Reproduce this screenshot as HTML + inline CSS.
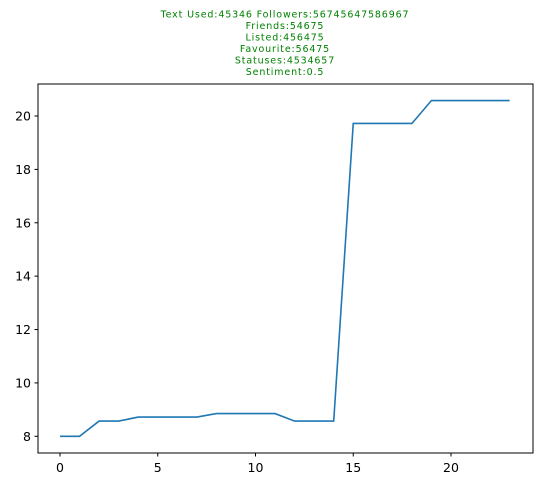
<!DOCTYPE html>
<html><head><meta charset="utf-8"><style>
body{margin:0;background:#fff;width:543px;height:487px;overflow:hidden}
svg{display:block;font-family:"DejaVu Sans","Liberation Sans",sans-serif}
</style></head><body>
<svg id="chart" width="543" height="487">
<g fill="#008000" font-size="9.5" letter-spacing="0.85" text-anchor="middle">
<text x="285" y="17.5">Text Used:45346 Followers:56745647586967</text>
<text x="285" y="29">Friends:54675</text>
<text x="285" y="40.5">Listed:456475</text>
<text x="285" y="52">Favourite:56475</text>
<text x="285" y="63.5">Statuses:4534657</text>
<text x="285" y="75">Sentiment:0.5</text>
</g>
<rect x="38" y="84" width="495" height="369" fill="none" stroke="#000" stroke-width="1"/>
<g id="xt"></g><g id="yt"></g>
<polyline id="line" fill="none" stroke="#1f77b4" stroke-width="1.6"/>
</svg>
<script>
const xValues=[0,1,2,3,4,5,6,7,8,9,10,11,12,13,14,15,16,17,18,19,20,21,22,23];
const yValues=[8,8,8.57,8.57,8.72,8.72,8.72,8.72,8.85,8.85,8.85,8.85,8.57,8.57,8.57,19.72,19.72,19.72,19.72,20.58,20.58,20.58,20.58,20.58];
const xTicks=[0,5,10,15,20];
const yTicks=[8,10,12,14,16,18,20];
const X=v=>60+v*(451-60)/20;
const Y=v=>436.3-(v-8)*(436.3-116)/12;
const ns="http://www.w3.org/2000/svg";
const line=document.getElementById('line');
line.setAttribute('points',xValues.map((x,i)=>X(x)+','+Y(yValues[i])).join(' '));
const xt=document.getElementById('xt'),yt=document.getElementById('yt');
xTicks.forEach(t=>{
 const l=document.createElementNS(ns,'line');
 
 
 l.setAttribute('x1',X(t));l.setAttribute('x2',X(t));l.setAttribute('y1',453);l.setAttribute('y2',456.5);l.setAttribute('stroke','#000');
 xt.appendChild(l);
 const s=document.createElementNS(ns,'text');
 
 
 s.setAttribute('x',X(t));s.setAttribute('y',472);s.setAttribute('font-size','12.5');s.setAttribute('text-anchor','middle');
 s.textContent=t;xt.appendChild(s);
});
yTicks.forEach(t=>{
 const l=document.createElementNS(ns,'line');
 
 
 l.setAttribute('x1',34.5);l.setAttribute('x2',38);l.setAttribute('y1',Y(t));l.setAttribute('y2',Y(t));l.setAttribute('stroke','#000');
 yt.appendChild(l);
 const s=document.createElementNS(ns,'text');
 
 
 s.setAttribute('x',31);s.setAttribute('y',Y(t)+4.5);s.setAttribute('font-size','12.5');s.setAttribute('text-anchor','end');
 s.textContent=t;yt.appendChild(s);
});
</script>
</body></html>
